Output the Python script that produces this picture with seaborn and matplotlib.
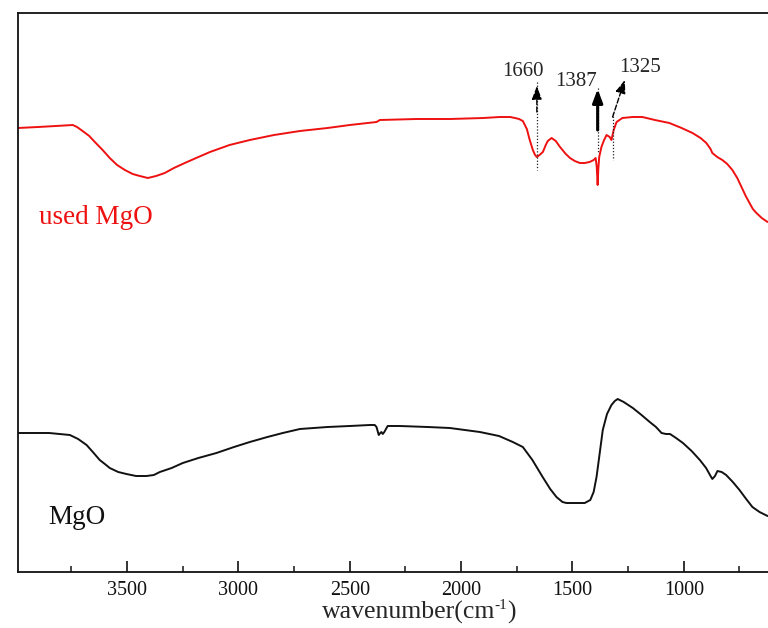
import numpy as np
import pandas as pd
import matplotlib
matplotlib.use("Agg")
import matplotlib.pyplot as plt
import seaborn as sns
from matplotlib.ticker import MultipleLocator

# ---- data (y in arbitrary transmittance units) ----
used_wn = [3991, 3900, 3820, 3744, 3725, 3700, 3670, 3645, 3610, 3578, 3545, 3510,
           3475, 3443, 3407, 3370, 3331, 3290, 3241, 3190, 3128, 3040, 2949, 2840,
           2724, 2600, 2500, 2380, 2365, 2200, 2050, 1900, 1826, 1780, 1758, 1740,
           1723, 1705, 1692, 1678, 1668, 1660, 1648, 1633, 1620, 1611, 1594, 1575,
           1556, 1530, 1511, 1490, 1467, 1445, 1423, 1405, 1396, 1391, 1387, 1384,
           1380, 1370, 1358, 1347, 1333, 1325, 1315, 1302, 1276, 1230, 1186, 1130,
           1065, 1010, 961, 925, 899, 880, 872, 850, 827, 805, 782, 760, 741, 722,
           705, 690, 674, 650, 624]
used_t = [444, 445, 446, 447, 445, 441, 436, 430, 422, 414, 407, 402,
          398, 396, 394, 396, 399, 404, 409, 414, 420, 427, 432, 437,
          441, 444, 447, 450, 452, 453, 453, 454, 455, 455, 454, 453,
          451, 443, 432, 422, 417, 415, 417, 420, 427, 431, 434, 431,
          425, 418, 414, 411, 409, 409, 410, 412, 414, 405, 387, 403,
          415, 425, 432, 437, 435, 432, 442, 450, 454, 455, 455, 452,
          449, 444, 439, 434, 429, 423, 419, 415, 412, 408, 402, 394, 385, 376,
          369, 363, 359, 354, 350]

mgo_wn = [3991, 3850, 3757, 3720, 3682, 3650, 3623, 3600, 3578, 3540, 3503, 3460,
          3413, 3380, 3353, 3300, 3250, 3180, 3099, 3020, 2949, 2870, 2801, 2724,
          2600, 2500, 2410, 2388, 2380, 2370, 2363, 2358, 2352, 2345, 2330, 2276,
          2150, 2051, 1916, 1830, 1768, 1723, 1680, 1634, 1600, 1572, 1545, 1527,
          1490, 1445, 1420, 1405, 1392, 1380, 1364, 1345, 1325, 1310, 1297, 1270,
          1229, 1190, 1153, 1125, 1100, 1080, 1062, 1035, 1004, 965, 928, 900, 880,
          872, 860, 849, 830, 810, 780, 750, 720, 692, 660, 624]
mgo_t = [139, 139, 137, 133, 127, 119, 112, 108, 104, 100, 98, 96,
         96, 97, 100, 104, 109, 114, 119, 125, 130, 135, 139, 143,
         145, 146, 147, 147, 145, 137, 139, 140, 138, 140, 146, 146,
         145, 144, 140, 136, 130, 125, 112, 95, 83, 75, 70, 69,
         69, 69, 72, 80, 95, 115, 142, 158, 167, 171, 173, 170,
         164, 157, 150, 145, 139, 138, 138, 134, 129, 121, 112, 104, 96,
         93, 96, 101, 100, 97, 90, 82, 73, 65, 60, 56]

series_names = ["used MgO", "MgO"]
peak_labels = ["1660", "1387", "1325"]
tick_values = [3500, 3000, 2500, 2000, 1500, 1000]
xlabel_parts = ["wavenumber(cm", "-1", ")"]

df = pd.concat([
    pd.DataFrame({"wavenumber": used_wn, "T": used_t, "sample": series_names[0]}),
    pd.DataFrame({"wavenumber": mgo_wn, "T": mgo_t, "sample": series_names[1]}),
])

sns.set_style("ticks")
plt.rcParams["font.family"] = ["Liberation Serif", "DejaVu Serif"]

fig = plt.figure(figsize=(7.68, 6.28), dpi=100)
ax = fig.add_axes([18 / 768, (628 - 572) / 628, 750 / 768, 559 / 628])

sns.lineplot(data=df, x="wavenumber", y="T", hue="sample",
             palette={"used MgO": "#ee1111", "MgO": "#111111"},
             sort=False, estimator=None, linewidth=1.4, legend=False, ax=ax)

ax.set_xlim(3990, 622)
ax.set_ylim(0, 559)
ax.set_yticks([])
ax.set_ylabel("")
ax.xaxis.set_major_locator(MultipleLocator(500))
ax.xaxis.set_minor_locator(MultipleLocator(250))
ax.tick_params(axis="x", which="major", direction="in", length=8, width=1.2,
               labelsize=14.5, pad=6.5, top=False, colors="#111111")
ax.tick_params(axis="x", which="minor", direction="in", length=4.5, width=1.2, top=False)
ax.set_xticks(tick_values)
ax.set_xticklabels([str(v) for v in tick_values])

# x label: main part as the axis label, superscript and bracket appended
ax.set_xlabel(xlabel_parts[0], fontsize=18.5, ha="left", va="baseline")
ax.xaxis.set_label_coords((322 - 18) / 750, (572 - 619) / 559)

for s in ["left", "top", "bottom"]:
    ax.spines[s].set_linewidth(1.3)
    ax.spines[s].set_color("#111111")
ax.spines["right"].set_visible(False)

fig.canvas.draw()
renderer = fig.canvas.get_renderer()
bb = ax.xaxis.label.get_window_extent(renderer)
base_y = 628 - 619  # display pixels (dpi 100 -> pixels)
sup = fig.text(bb.x1 - 1, base_y + 10, xlabel_parts[1], fontsize=11,
               ha="left", va="baseline", transform=None)
bb2 = sup.get_window_extent(renderer)
fig.text(bb2.x1 + 0.5, base_y, xlabel_parts[2], fontsize=18.5,
         ha="left", va="baseline", transform=None)

# sample labels
ax.text(3895, 355, series_names[0], color="#ee1111", fontsize=19.5, va="center", ha="left")
ax.text(3855, 55, series_names[1], color="#111111", fontsize=19.5, va="center", ha="left")

# peak annotations
ax.text(1724, 500, peak_labels[0], fontsize=15, ha="center", va="center")
ax.text(1482, 491, peak_labels[1], fontsize=15, ha="center", va="center")
ax.text(1198, 505, peak_labels[2], fontsize=15, ha="center", va="center")

# dotted guide lines
ax.plot([1660, 1660], [490, 402], ls=(0, (1, 1.5)), color="#222222", lw=0.9)
ax.plot([1387, 1387], [484, 419], ls=(0, (1, 1.5)), color="#222222", lw=0.9)
ax.plot([1320, 1320], [459, 412], ls=(0, (1, 1.5)), color="#222222", lw=0.9)

# arrows
ax.annotate("", xy=(1660, 486), xytext=(1660, 460),
            arrowprops=dict(arrowstyle="-|>,head_length=0.8,head_width=0.3",
                            color="black", lw=1.0, ls="--", shrinkA=0, shrinkB=0))
ax.annotate("", xy=(1387, 483), xytext=(1387, 442),
            arrowprops=dict(arrowstyle="-|>,head_length=0.8,head_width=0.3",
                            color="black", lw=2.2, shrinkA=0, shrinkB=0))
ax.annotate("", xy=(1265, 492), xytext=(1320, 455),
            arrowprops=dict(arrowstyle="-|>,head_length=0.8,head_width=0.3",
                            color="black", lw=1.0, ls="--", shrinkA=0, shrinkB=0))

fig.savefig("out.png", dpi=100)
